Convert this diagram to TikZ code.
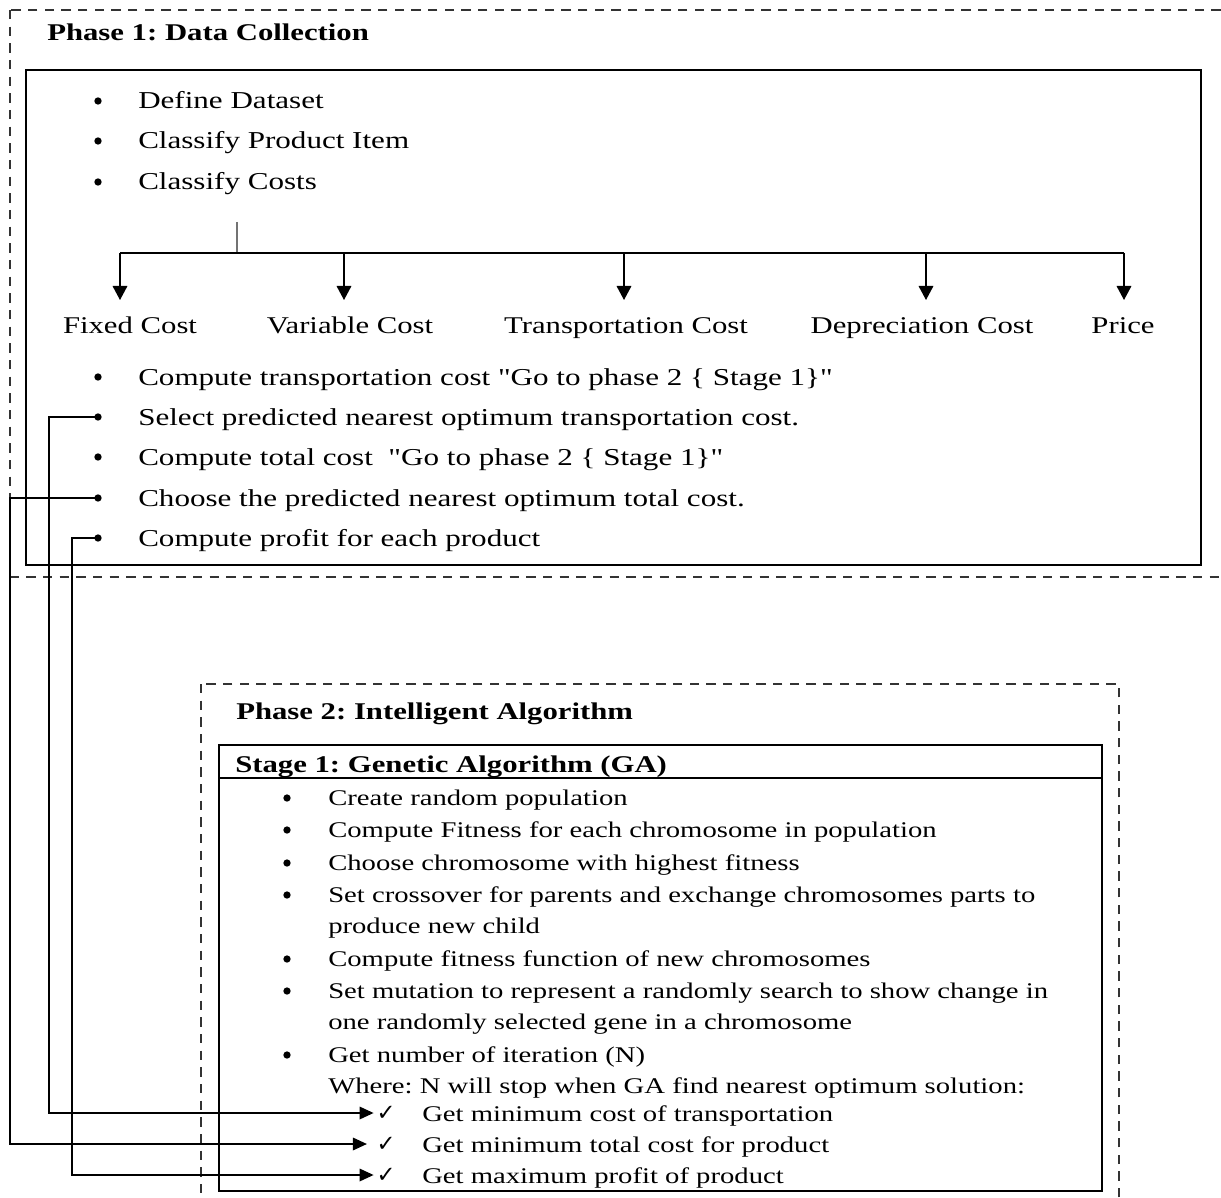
\documentclass[tikz,border=0pt]{standalone}
\usepackage{fontspec}
\setmainfont{Liberation Serif}[FakeStretch=1.28, Ligatures=TeXOff]
\newfontfamily\symfont{DejaVu Sans}
\usetikzlibrary{arrows.meta}
\frenchspacing
\begin{document}
\begin{tikzpicture}[x=0.75pt,y=-0.75pt,
  dashedframe/.style={draw=black!80, line width=1.5pt, dash pattern=on 7pt off 5.5pt},
  solidframe/.style={draw=black, line width=1.1pt},
  txtA/.style={anchor=base west, inner sep=0pt, font=\fontsize{18.2}{21}\selectfont},
  txtB/.style={anchor=base west, inner sep=0pt, font=\fontsize{16.8}{19}\selectfont},
  ttl/.style={anchor=base west, inner sep=0pt, font=\bfseries\fontsize{18}{21}\selectfont},
  lbl/.style={anchor=base, inner sep=0pt, font=\fontsize{18}{21}\selectfont},
  bul/.style={circle, fill=black, inner sep=0pt, minimum size=5.5pt},
  chk/.style={inner sep=1pt, font=\symfont\fontsize{17}{19}\selectfont},
  link/.style={draw=black, line width=0.9pt},
  treearr/.style={link, -{Triangle[length=10.5pt,width=11pt]}},
  arr/.style={link, -{Triangle[length=10.5pt,width=9.5pt]}},
]
\useasboundingbox (0,0) rectangle (1221,1198);
\clip (0,0) rectangle (1221,1198);

% ---------- Phase 1 ----------
\draw[dashedframe] (10,10) rectangle (1240,577);
\draw[solidframe] (26,70) rectangle (1201,565);
\node[ttl] (p1title) at (47,41) {Phase 1: Data Collection};

\foreach \n/\yy/\t in {a1/101/Define Dataset, a2/141/Classify Product Item, a3/182/Classify Costs}{
  \node[bul] (\n) at (98,\yy) {};
  \node[txtA] (\n t) at (138,\yy+8) {\t};
}

% cost classification tree
\coordinate (stubtop) at (237,222);
\coordinate (split) at (237,253);
\coordinate (railL) at (120,253);
\coordinate (railR) at (1124,253);
\draw[draw=black!55, line width=1.1pt] (stubtop) -- (split);
\draw[link] (railL) -- (railR);
\foreach \n/\xx/\cx/\t in {fc/120/130/Fixed Cost, vc/344/350/Variable Cost,
    tc/624/626/Transportation Cost, dc/926/922/Depreciation Cost, pr/1124/1123/Price}{
  \coordinate (\n s) at (\xx,253);
  \coordinate (\n e) at (\xx,300);
  \draw[treearr] (\n s) -- (\n e);
  \node[lbl] (\n) at (\cx,334) {\t};
}

\node[bul] (b1) at (98,377) {};
\node[txtA] (b1t) at (138,385) {Compute transportation cost "Go to phase 2 \{ Stage 1\}"};
\node[bul] (b2) at (98,417) {};
\node[txtA] (b2t) at (138,425) {Select predicted nearest optimum transportation cost.};
\node[bul] (b3) at (98,457) {};
\node[txtA] (b3t) at (138,465) {Compute total cost\ \ "Go to phase 2 \{ Stage 1\}"};
\node[bul] (b4) at (98,498) {};
\node[txtA] (b4t) at (138,506) {Choose the predicted nearest optimum total cost.};
\node[bul] (b5) at (98,538) {};
\node[txtA] (b5t) at (138,546) {Compute profit for each product};

% ---------- Phase 2 ----------
\draw[dashedframe] (201,684) rectangle (1119,1240);
\node[ttl] (p2title) at (236,719) {Phase 2: Intelligent Algorithm};
\draw[solidframe] (219,745) rectangle (1102,1191);
\draw[solidframe] (219,778) -- (1102,778);
\node[ttl] (s1title) at (235,772) {Stage 1: Genetic Algorithm (GA)};

\foreach \n/\yy/\t in {g1/798/Create random population,
    g2/830/Compute Fitness for each chromosome in population,
    g3/863/Choose chromosome with highest fitness,
    g4/895/Set crossover for parents and exchange chromosomes parts to,
    g6/959/Compute fitness function of new chromosomes,
    g7/991/Set mutation to represent a randomly search to show change in,
    g9/1055/Get number of iteration (N)}{
  \node[bul] (\n) at (287,\yy) {};
  \node[txtB] (\n t) at (328,\yy+7) {\t};
}
\node[txtB] (g5t) at (328,933) {produce new child};
\node[txtB] (g8t) at (328,1029) {one randomly selected gene in a chromosome};
\node[txtB] (g10t) at (328,1093) {Where: N will stop when GA find nearest optimum solution:};

\node[chk] (k1) at (386,1113) {✓};
\node[txtB] (k1t) at (422,1121) {Get minimum cost of transportation};
\node[chk] (k2) at (386,1144) {✓};
\node[txtB] (k2t) at (422,1152) {Get minimum total cost for product};
\node[chk] (k3) at (386,1175) {✓};
\node[txtB] (k3t) at (422,1183) {Get maximum profit of product};

% ---------- links from Phase 1 results to GA outcomes ----------
\coordinate (lane1) at (49,0);
\coordinate (lane2) at (10,0);
\coordinate (lane3) at (72,0);
\draw[arr, shorten >=1pt] (b2.center) -- (b2.center -| lane1) |- (k1.west);
\draw[arr, shorten >=6pt] (b4.center) -- (b4.center -| lane2) |- (k2.west);
\draw[arr, shorten >=1pt] (b5.center) -- (b5.center -| lane3) |- (k3.west);
\end{tikzpicture}
\end{document}
